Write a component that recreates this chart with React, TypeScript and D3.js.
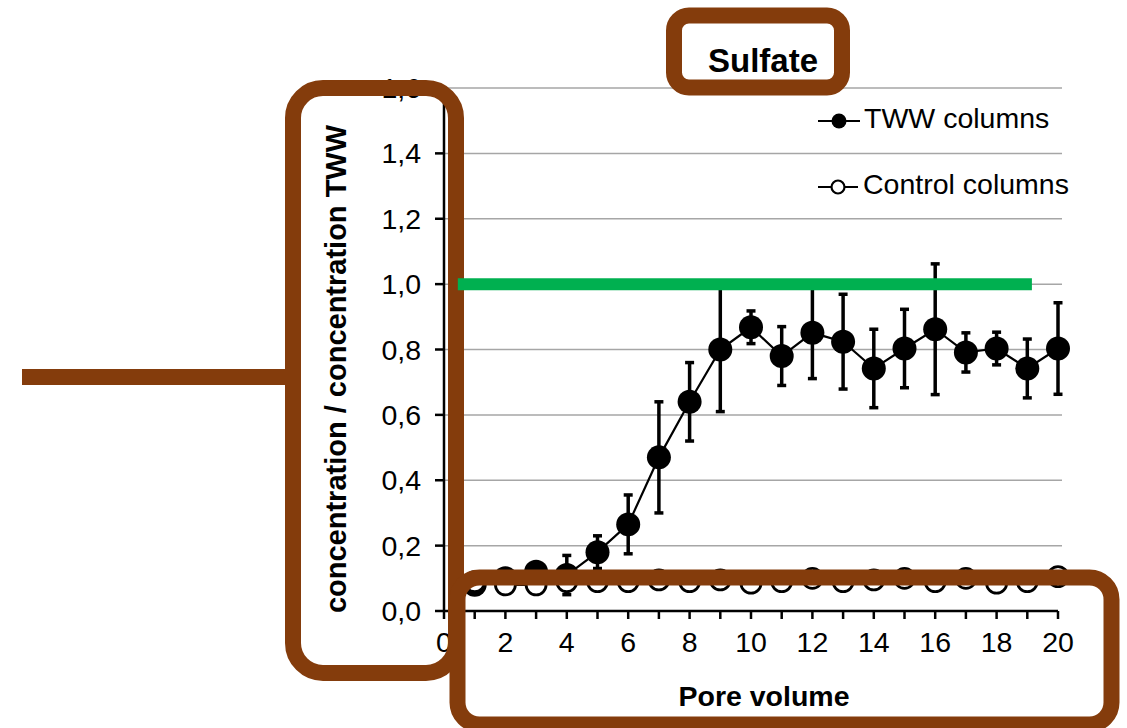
import React from "react";
import * as d3 from "d3";

// pore volumes 1..20
const poreVolumes = [1, 2, 3, 4, 5, 6, 7, 8, 9, 10, 11, 12, 13, 14, 15, 16, 17, 18, 19, 20];
const twwValues = [0.08, 0.1, 0.12, 0.11, 0.18, 0.265, 0.47, 0.64, 0.8, 0.868, 0.78, 0.851, 0.824, 0.742, 0.803, 0.862, 0.791, 0.803, 0.742, 0.803];
const twwErrors = [0.01, 0.01, 0.01, 0.06, 0.05, 0.09, 0.17, 0.12, 0.19, 0.05, 0.09, 0.14, 0.145, 0.12, 0.12, 0.2, 0.06, 0.05, 0.09, 0.14];
const controlValues = [0.09, 0.08, 0.08, 0.09, 0.09, 0.09, 0.095, 0.09, 0.095, 0.085, 0.09, 0.1, 0.09, 0.095, 0.1, 0.09, 0.1, 0.085, 0.09, 0.105];

const yTicks = [0, 0.2, 0.4, 0.6, 0.8, 1.0, 1.2, 1.4, 1.6];
const xTicks = d3.range(0, 21, 1);
const xLabels = [0, 2, 4, 6, 8, 10, 12, 14, 16, 18, 20];

// green reference line (ratio = 1) drawn over part of the x range
const refLevel = 1.0;
const refFrom = 0.45;
const refTo = 19.15;

const FONT = "'Liberation Sans', Arial, sans-serif";
const BROWN = "#843C0C";
const GREEN = "#00B050";
const GRID = "#A6A6A6";

const fmt = (v: number) => d3.format(".1f")(v).replace(".", ",");

export default function App() {
  const x = d3.scaleLinear().domain([0, 20]).range([444, 1058]);
  const y = d3.scaleLinear().domain([0, 1.6]).range([611, 88]);

  const tww = poreVolumes.map((p, i) => ({ p, v: twwValues[i], e: twwErrors[i] }));
  const ctrl = poreVolumes.map((p, i) => ({ p, v: controlValues[i] }));

  const line = d3.line<{ p: number; v: number }>().x(d => x(d.p)).y(d => y(d.v));

  const gridRight = x(20) + 4;

  return (
    <svg width={1127} height={728} style={{ position: "absolute", left: 0, top: 0, background: "#fff" }} fontFamily={FONT}>
      {/* gridlines */}
      {yTicks.filter(t => t > 0).map(t => (
        <line key={t} x1={x(0)} x2={gridRight} y1={y(t)} y2={y(t)} stroke={GRID} strokeWidth={1.5} />
      ))}

      {/* TWW series */}
      <path d={line(tww) || ""} fill="none" stroke="#000" strokeWidth={2.2} />
      {tww.map(d => (
        <g key={"e" + d.p} stroke="#000" strokeWidth={3.5}>
          <line x1={x(d.p)} x2={x(d.p)} y1={y(d.v + d.e)} y2={y(d.v - d.e)} />
          <line x1={x(d.p) - 4.5} x2={x(d.p) + 4.5} y1={y(d.v + d.e)} y2={y(d.v + d.e)} />
          <line x1={x(d.p) - 4.5} x2={x(d.p) + 4.5} y1={y(d.v - d.e)} y2={y(d.v - d.e)} />
        </g>
      ))}
      {tww.map(d => (
        <circle key={"m" + d.p} cx={x(d.p)} cy={y(d.v)} r={12} fill="#000" />
      ))}

      {/* Control series */}
      <path d={line(ctrl) || ""} fill="none" stroke="#000" strokeWidth={2.2} />
      {ctrl.map(d => (
        <circle key={"c" + d.p} cx={x(d.p)} cy={y(d.v)} r={10} fill="#fff" stroke="#000" strokeWidth={2.8} />
      ))}

      {/* axes */}
      <line x1={x(0)} x2={x(0)} y1={y(0)} y2={y(1.6)} stroke="#000" strokeWidth={2.5} />
      <line x1={x(0) - 1} x2={x(20)} y1={y(0)} y2={y(0)} stroke="#000" strokeWidth={2.5} />
      {yTicks.map(t => (
        <g key={"yt" + t}>
          <line x1={x(0) - 9} x2={x(0)} y1={y(t)} y2={y(t)} stroke="#000" strokeWidth={2.5} />
          <text x={421} y={y(t) + 10} textAnchor="end" fontSize={28.5}>{fmt(t)}</text>
        </g>
      ))}
      {xTicks.map(t => (
        <line key={"xt" + t} x1={x(t)} x2={x(t)} y1={y(0)} y2={y(0) + 8} stroke="#000" strokeWidth={2.5} />
      ))}
      {xLabels.map(t => (
        <text key={"xl" + t} x={x(t)} y={652} textAnchor="middle" fontSize={28.5}>{t}</text>
      ))}

      {/* titles */}
      <text x={763} y={72} textAnchor="middle" fontSize={33} fontWeight="bold">Sulfate</text>
      <text x={764} y={706} textAnchor="middle" fontSize={28.5} fontWeight="bold">Pore volume</text>
      <text transform="translate(346,369) rotate(-90)" textAnchor="middle" fontSize={29} fontWeight="bold">
        concentration / concentration TWW
      </text>

      {/* legend */}
      <line x1={818} x2={860} y1={121} y2={121} stroke="#000" strokeWidth={2.2} />
      <circle cx={839} cy={121} r={7.5} fill="#000" />
      <text x={864} y={128} fontSize={28.5}>TWW columns</text>
      <line x1={818} x2={858} y1={187} y2={187} stroke="#000" strokeWidth={2.2} />
      <circle cx={838} cy={187} r={6.5} fill="#fff" stroke="#000" strokeWidth={2.2} />
      <text x={863} y={194} fontSize={28.5}>Control columns</text>

      {/* annotations */}
      <g fill="none" stroke={BROWN} strokeWidth={16}>
        <rect x={293} y={88} width={163} height={585} rx={30} />
        <rect x={457.5} y={577.5} width={654} height={147} rx={22} />
        <rect x={674} y={15.5} width={168} height={72} rx={15} />
        <line x1={22} x2={293} y1={377} y2={377} />
      </g>

      {/* reference line, drawn over the annotation frame */}
      <line x1={x(refFrom)} x2={x(refTo)} y1={y(refLevel)} y2={y(refLevel)} stroke={GREEN} strokeWidth={12} />
    </svg>
  );
}
